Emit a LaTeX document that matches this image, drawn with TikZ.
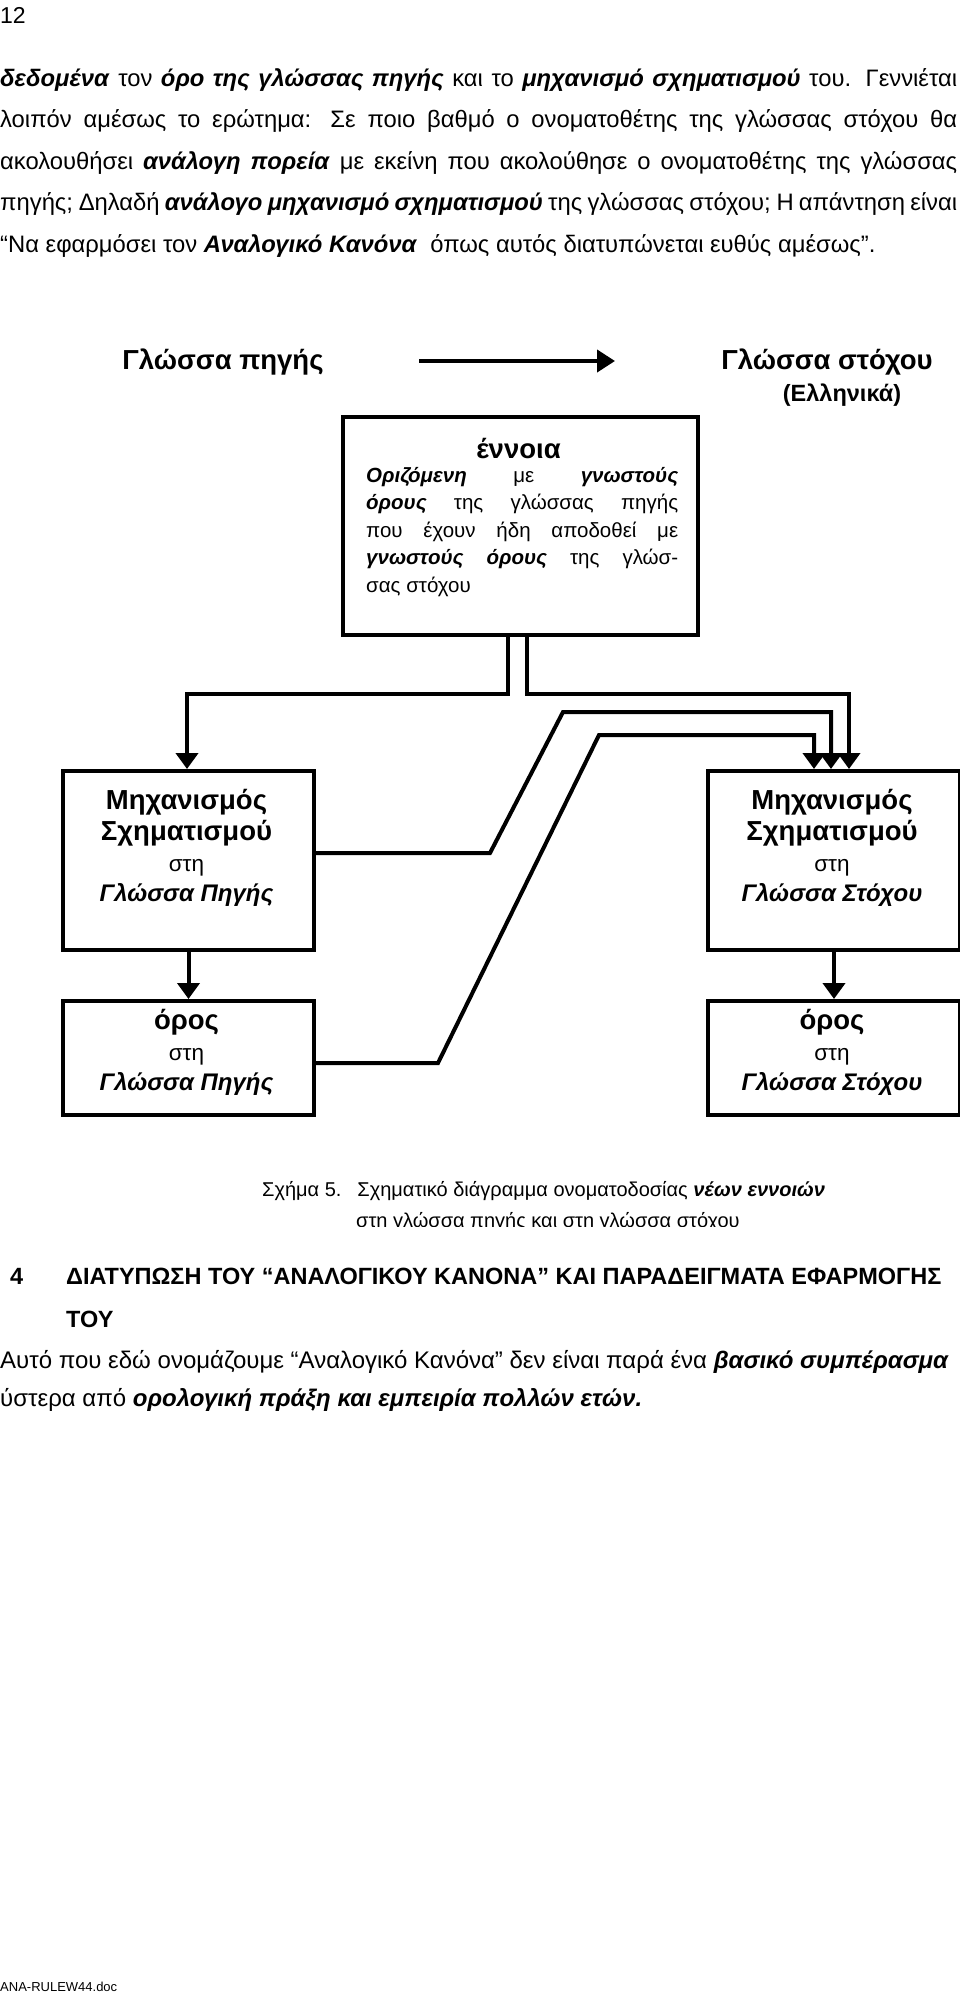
\documentclass[tikz,border=0pt]{standalone}
\usepackage{fontspec}
\setmainfont{Liberation Sans}
\usetikzlibrary{arrows.meta}
\begin{document}
\begin{tikzpicture}[x=1pt,y=-1pt,
  box/.style={draw,line width=4pt,anchor=north west,inner sep=0pt},
  arr/.style={line width=4pt,-{Triangle[width=22pt,length=16pt]}},
  txt/.style={inner sep=0pt,align=center},
  big/.style={font=\fontsize{27.5}{32}\selectfont\bfseries}]
\useasboundingbox (0,0) rectangle (960,2000);
\node[inner sep=0pt,anchor=west,font=\fontsize{23}{26}\selectfont] (pg) at (0,15) {12};
\node[inner sep=0pt,anchor=north west] (para) at (0,68) {\parbox{957pt}{\fontsize{23.8}{41.5}\selectfont
\textbf{\itshape δεδομένα} τον \textbf{\itshape όρο της γλώσσας πηγής} και το \textbf{\itshape μηχανισμό σχηματισμού} του. Γεννιέται\linebreak
λοιπόν αμέσως το ερώτημα: Σε ποιο βαθμό ο ονοματοθέτης της γλώσσας στόχου θα\linebreak
ακολουθήσει \textbf{\itshape ανάλογη πορεία} με εκείνη που ακολούθησε ο ονοματοθέτης της γλώσσας\linebreak
πηγής; Δηλαδή \textbf{\itshape ανάλογο μηχανισμό σχηματισμού} της γλώσσας στόχου; Η απάντηση είναι\linebreak
“Να εφαρμόσει τον \textbf{\itshape Αναλογικό Κανόνα}~ όπως αυτός διατυπώνεται ευθύς αμέσως”.}};
% diagram header
\node[txt,big] (src) at (223,362) {Γλώσσα πηγής};
\node[txt,big] (tgt) at (827,362) {Γλώσσα στόχου};
\node[txt,font=\fontsize{23.5}{27}\selectfont\bfseries] (ell) at (842,395) {(Ελληνικά)};
\coordinate (a1) at (419,361); \coordinate (a2) at (615,361);
\draw[line width=4pt,-{Triangle[width=22pt,length=18pt]}] (a1) -- (a2);
% ennoia box
\node[box,minimum width=355pt,minimum height=218pt] (enn) at (341,415) {};
\node[txt,big] (ennt) at (518.5,449) {έννοια};
\node[inner sep=0pt,anchor=north west] (ennb) at (366,467) {\parbox{312pt}{\fontsize{20.5}{27.5}\selectfont
\textbf{\itshape Οριζόμενη} με \textbf{\itshape γνωστούς}\linebreak
\textbf{\itshape όρους} της γλώσσας πηγής\linebreak
που έχουν ήδη αποδοθεί με\linebreak
\textbf{\itshape γνωστούς όρους} της γλώσ-\linebreak
σας στόχου}};
% MS boxes
\node[box,minimum width=251pt,minimum height=179pt] (msl) at (61,769) {};
\node[box,minimum width=252pt,minimum height=179pt] (msr) at (706,769) {};
\node[txt,font=\fontsize{27.5}{31}\selectfont] (mslt) at (186.5,848) {\textbf{Μηχανισμός}\\\textbf{Σχηματισμού}\\{\fontsize{22.5}{24}\selectfont στη}\\[-1pt]\textbf{\itshape\fontsize{24}{27}\selectfont Γλώσσα Πηγής}};
\node[txt,font=\fontsize{27.5}{31}\selectfont] (msrt) at (832,848) {\textbf{Μηχανισμός}\\\textbf{Σχηματισμού}\\{\fontsize{22.5}{24}\selectfont στη}\\[-1pt]\textbf{\itshape\fontsize{24}{27}\selectfont Γλώσσα Στόχου}};
% oros boxes
\node[box,minimum width=251pt,minimum height=114pt] (orl) at (61,999) {};
\node[box,minimum width=252pt,minimum height=114pt] (orr) at (706,999) {};
\node[txt,font=\fontsize{27.5}{31}\selectfont] (orlt) at (186.5,1052) {\textbf{όρος}\\{\fontsize{22.5}{24}\selectfont στη}\\[-1pt]\textbf{\itshape\fontsize{24}{27}\selectfont Γλώσσα Πηγής}};
\node[txt,font=\fontsize{27.5}{31}\selectfont] (orrt) at (832,1052) {\textbf{όρος}\\{\fontsize{22.5}{24}\selectfont στη}\\[-1pt]\textbf{\itshape\fontsize{24}{27}\selectfont Γλώσσα Στόχου}};
% connectors
\draw[arr] (enn.south -| 508,0) |- (187,694) -- (msl.north -| 187,0);
\draw[arr] (enn.south -| 527,0) |- (849,694) -- (msr.north -| 849,0);
\draw[arr] (msl.east |- 0,853) -- (490,853) -- (563,712) -- (831,712) -- (msr.north -| 831,0);
\draw[arr] (orl.east |- 0,1063) -- (438,1063) -- (599,735) -- (814,735) -- (msr.north -| 814,0);
\draw[arr] (msl.south) -- (orl.north);
\draw[arr] (msr.south) -- (orr.north);
% caption
\begin{scope}
\clip (200,1170) rectangle (960,1226);
\node[inner sep=0pt,anchor=west,font=\fontsize{20}{29}\selectfont] (cap) at (262,1191) {Σχήμα 5.\hspace{16pt}Σχηματικό διάγραμμα ονοματοδοσίας \textbf{\itshape νέων εννοιών}};
\node[inner sep=0pt,anchor=west,font=\fontsize{20}{29}\selectfont] (cap2) at (356,1222) {στη γλώσσα πηγής και στη γλώσσα στόχου};
\end{scope}
% heading
\node[inner sep=0pt,anchor=west,font=\fontsize{23.5}{26}\selectfont\bfseries] (h4) at (10,1276) {4};
\node[inner sep=0pt,anchor=west,font=\fontsize{23.5}{26}\selectfont\bfseries] (h) at (66,1276) {ΔΙΑΤΥΠΩΣΗ ΤΟΥ “ΑΝΑΛΟΓΙΚΟΥ ΚΑΝΟΝΑ” ΚΑΙ ΠΑΡΑΔΕΙΓΜΑΤΑ ΕΦΑΡΜΟΓΗΣ};
\node[inner sep=0pt,anchor=west,font=\fontsize{23.5}{26}\selectfont\bfseries] (h2) at (66,1319) {ΤΟΥ};
\node[inner sep=0pt,anchor=north west] (p2) at (0,1350) {\parbox{957pt}{\fontsize{24}{38}\selectfont
Αυτό που εδώ ονομάζουμε “Αναλογικό Κανόνα” δεν είναι παρά ένα \textbf{\itshape βασικό συμπέρασμα}\\
ύστερα από \textbf{\itshape ορολογική πράξη και εμπειρία πολλών ετών.}}};
\node[inner sep=0pt,anchor=west,font=\fontsize{13}{15}\selectfont] (foot) at (0,1987) {ANA-RULEW44.doc};
\end{tikzpicture}
\end{document}
